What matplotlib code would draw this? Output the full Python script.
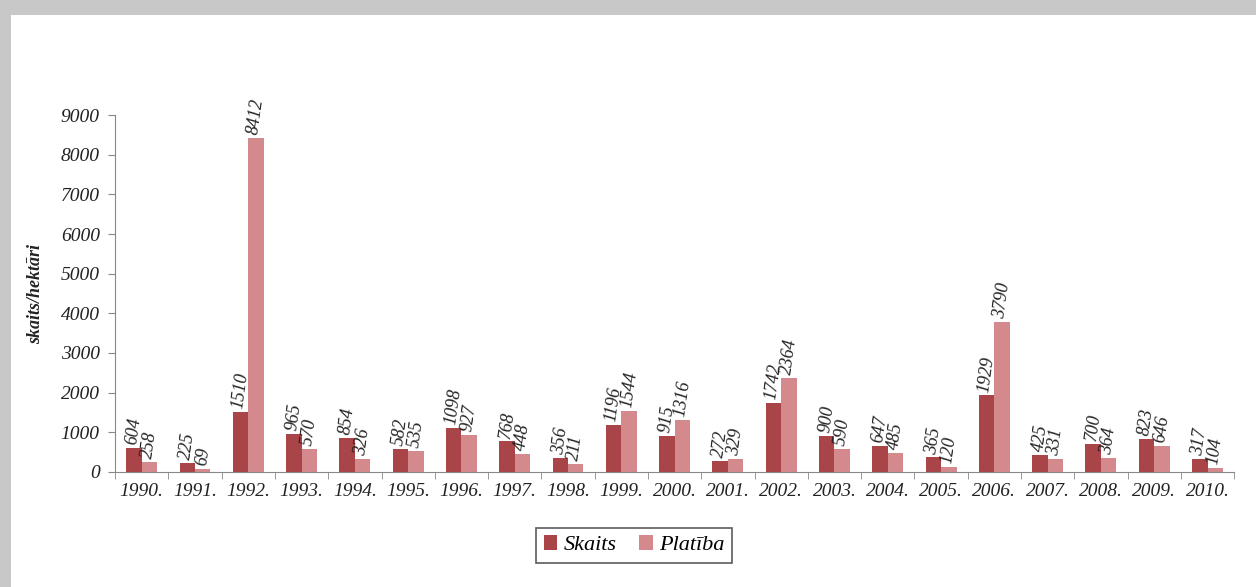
import numpy as np
import matplotlib.pyplot as plt
from matplotlib.patches import Rectangle

years = ['1990.', '1991.', '1992.', '1993.', '1994.', '1995.', '1996.',
         '1997.', '1998.', '1999.', '2000.', '2001.', '2002.', '2003.',
         '2004.', '2005.', '2006.', '2007.', '2008.', '2009.', '2010.']
skaits = [604, 225, 1510, 965, 854, 582, 1098, 768, 356, 1196, 915,
          272, 1742, 900, 647, 365, 1929, 425, 700, 823, 317]
platiba = [258, 69, 8412, 570, 326, 535, 927, 448, 211, 1544, 1316,
           329, 2364, 590, 485, 120, 3790, 331, 364, 646, 104]

dark = '#a94448'
pink = '#d4898c'
plt.rcParams['font.family'] = ['Liberation Serif', 'DejaVu Serif']

fig = plt.figure(figsize=(12.56, 5.87), dpi=100)
fig.patch.set_facecolor('#c8c8c8')
# white panel inside the gray frame
fig.patches.append(Rectangle((0.009, 0), 0.991, 0.975, transform=fig.transFigure,
                             facecolor='white', edgecolor='none', zorder=-10))

ax = fig.add_axes([0.0916, 0.196, 0.891, 0.608])
ax.set_facecolor('none')
x = np.arange(len(years))
w = 0.29
b1 = ax.bar(x - w / 2, skaits, w, color=dark, label='Skaits', zorder=2)
b2 = ax.bar(x + w / 2, platiba, w, color=pink, label='Platība', zorder=2)

for bars, vals in ((b1, skaits), (b2, platiba)):
    for r, v in zip(bars, vals):
        ax.text(r.get_x() + r.get_width() / 2, v + 60, str(v), rotation=82,
                ha='center', va='bottom', fontsize=13, style='italic',
                color='#222222')

ax.set_xlim(-0.5, len(years) - 0.5)
ax.set_ylim(0, 9000)
ax.set_yticks(range(0, 9001, 1000))
ax.set_yticklabels([str(v) for v in range(0, 9001, 1000)],
                   fontsize=14, style='italic', color='#222222')
ax.set_xticks(x)
ax.set_xticklabels(years, fontsize=14, style='italic', color='#222222')
ax.set_xticks(np.arange(-0.5, len(years), 1), minor=True)
ax.tick_params(axis='x', which='major', length=0, pad=8)
ax.tick_params(axis='x', which='minor', length=5, color='#888888')
ax.tick_params(axis='y', length=5, color='#888888', pad=6)
for s in ['top', 'right']:
    ax.spines[s].set_visible(False)
for s in ['left', 'bottom']:
    ax.spines[s].set_color('#888888')
ax.set_ylabel('skaits/hektāri', fontsize=13, style='italic',
              fontweight='bold', labelpad=12, color='#222222')

leg = fig.legend(handles=[b1, b2], loc='upper center',
                 bbox_to_anchor=(0.505, 0.12), ncol=2,
                 frameon=True, fancybox=False, handlelength=0.6,
                 handleheight=0.6, handletextpad=0.3, columnspacing=1.0,
                 borderpad=0.35, prop={'style': 'italic', 'size': 16})
leg.get_frame().set_edgecolor('#333333')
leg.get_frame().set_linewidth(1.2)

fig.savefig('out.png', dpi=100, facecolor=fig.get_facecolor())
